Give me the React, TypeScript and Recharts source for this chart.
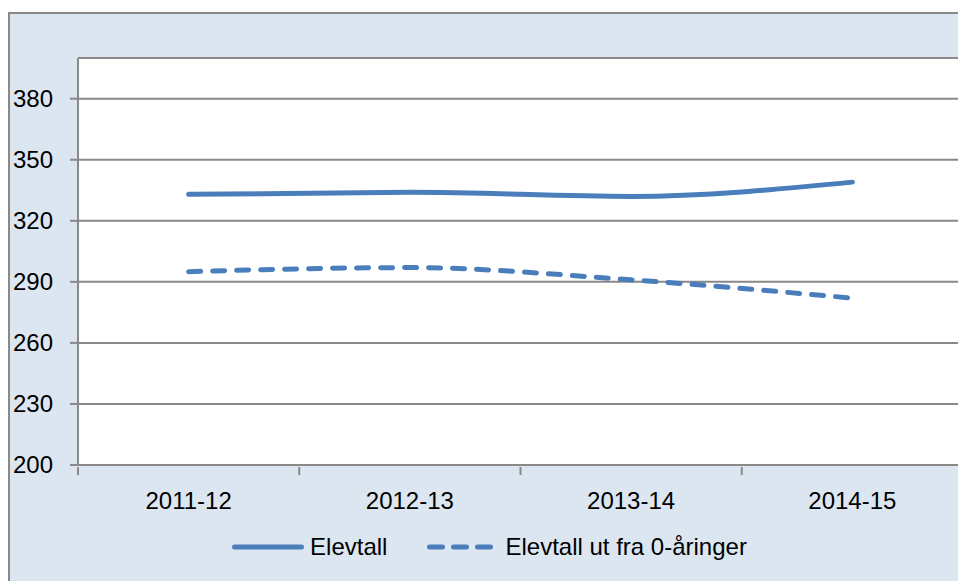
import React from 'react';
import { LineChart, Line, XAxis, YAxis, CartesianGrid, Legend } from 'recharts';

// ─── Data ─────────────────────────────────────────────────────────────────────

const categories = ['2011-12', '2012-13', '2013-14', '2014-15'];
const elevtall = [333, 334, 332, 339];
const elevtallFra0 = [295, 297, 291, 282];
const yTicks = [200, 230, 260, 290, 320, 350, 380];

const data = categories.map((c, i) => ({
  aar: c,
  elevtall: elevtall[i],
  fra0: elevtallFra0[i],
}));

// ─── Layout ───────────────────────────────────────────────────────────────────

const CHART_W = 960;
const CHART_H = 575;
const MARGIN = { top: 44, right: 7, left: 0, bottom: 20 };
const Y_W = 68;
const BAND = (CHART_W - MARGIN.right - MARGIN.left - Y_W) / categories.length;

const BLUE = '#4a7ebb';
const GREY = '#898989';
const FONT = '"Liberation Sans", Arial, sans-serif';

const XTick = ({ x, y, payload }: any) => (
  <g>
    <line x1={x - BAND / 2} x2={x - BAND / 2} y1={y - 8} y2={y} stroke={GREY} strokeWidth={2} />
    <text x={x} y={y + 34} textAnchor="middle" fontSize={24} fontFamily={FONT} fill="#000">
      {payload.value}
    </text>
  </g>
);

const YTick = ({ y, payload }: any) => (
  <text x={3} y={y} dy="0.35em" textAnchor="start" fontSize={24} fontFamily={FONT} fill="#000">
    {payload.value}
  </text>
);

const LegendContent = () => (
  <div
    style={{
      display: 'flex',
      alignItems: 'center',
      justifyContent: 'center',
      height: 44,
      paddingLeft: 6,
      fontFamily: FONT,
      fontSize: 24,
      color: '#000',
    }}
  >
    <svg width={72} height={10}>
      <line x1={2.5} x2={69.5} y1={5} y2={5} stroke={BLUE} strokeWidth={5} strokeLinecap="round" />
    </svg>
    <span style={{ marginLeft: 6 }}>Elevtall</span>
    <svg width={66} height={10} style={{ marginLeft: 40 }}>
      <line
        x1={2.5}
        x2={63.5}
        y1={5}
        y2={5}
        stroke={BLUE}
        strokeWidth={5}
        strokeLinecap="round"
        strokeDasharray="13 11"
      />
    </svg>
    <span style={{ marginLeft: 12 }}>Elevtall ut fra 0-åringer</span>
  </div>
);

export default function App() {
  return (
    <div style={{ position: 'fixed', left: 8, top: 12, width: 1000, height: 580, overflow: 'hidden' }}>
      <div
        style={{
          width: 1000,
          height: 620,
          background: '#dce6f1',
          borderTop: `2px solid ${GREY}`,
          borderLeft: `2px solid ${GREY}`,
        }}
      >
        <LineChart width={CHART_W} height={CHART_H} data={data} margin={MARGIN}>
          <CartesianGrid vertical={false} stroke={GREY} strokeWidth={2} fill="#fff" />
          <XAxis
            dataKey="aar"
            scale="band"
            interval={0}
            height={60}
            tickSize={8}
            tickLine={false}
            axisLine={{ stroke: GREY, strokeWidth: 2 }}
            tick={<XTick />}
          />
          <YAxis
            width={Y_W}
            domain={[200, 400]}
            ticks={yTicks}
            interval={0}
            tickSize={8}
            tickLine={{ stroke: GREY, strokeWidth: 2 }}
            axisLine={{ stroke: GREY, strokeWidth: 2 }}
            tick={<YTick />}
          />
          <Legend verticalAlign="bottom" height={44} content={<LegendContent />} />
          <Line
            type="monotone"
            dataKey="elevtall"
            name="Elevtall"
            stroke={BLUE}
            strokeWidth={5}
            strokeLinecap="round"
            dot={false}
            activeDot={false}
            isAnimationActive={false}
          />
          <Line
            type="monotone"
            dataKey="fra0"
            name="Elevtall ut fra 0-åringer"
            stroke={BLUE}
            strokeWidth={5}
            strokeLinecap="round"
            strokeDasharray="12 12"
            dot={false}
            activeDot={false}
            isAnimationActive={false}
          />
        </LineChart>
      </div>
    </div>
  );
}
